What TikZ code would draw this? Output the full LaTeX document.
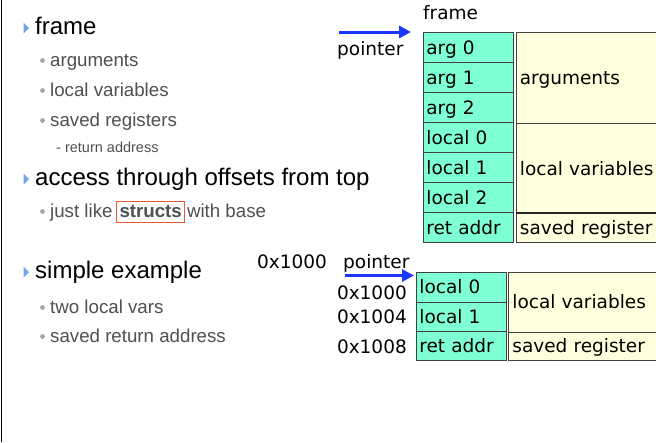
\documentclass[tikz,border=0pt]{standalone}
\usepackage{fontspec}
\setmainfont{Liberation Sans}
\newfontfamily\cellfont{DejaVu Sans}
\usetikzlibrary{arrows.meta}

\definecolor{cellteal}{RGB}{127,255,212}
\definecolor{noteyellow}{RGB}{255,255,221}
\definecolor{ptrblue}{RGB}{25,55,255}
\definecolor{bulletblue}{RGB}{110,165,230}
\definecolor{subgray}{RGB}{80,80,80}
\definecolor{dotgray}{RGB}{165,165,165}
\definecolor{boxred}{RGB}{232,85,55}

\begin{document}
\begin{tikzpicture}[x=1pt,y=-1pt,
  head/.style={anchor=base west, inner sep=0pt, font=\fontsize{24}{28}\selectfont},
  sub/.style={anchor=base west, inner sep=0pt, text=subgray, font=\fontsize{18.7}{22}\selectfont},
  subsub/.style={anchor=base west, inner sep=0pt, text=subgray, font=\fontsize{14.5}{17}\selectfont},
  lbl/.style={inner sep=0pt, font=\cellfont\fontsize{18.5}{20}\selectfont},
  slot/.style={draw=black!75, line width=0.8pt, fill=cellteal, anchor=north west,
    text width=84pt, inner xsep=3pt, inner ysep=0pt, align=left, minimum height=30pt,
    text height=17pt, text depth=3pt, font=\cellfont\fontsize{18.5}{20}\selectfont},
  region/.style={draw=black!75, line width=0.8pt, fill=noteyellow, anchor=north west,
    text width=192pt, inner xsep=4pt, inner ysep=0pt, align=left,
    text height=17pt, text depth=3pt, font=\cellfont\fontsize{18.5}{20}\selectfont},
  ptr/.style={draw=ptrblue, line width=3pt, -{Triangle[length=12pt,width=12pt]}},
]
\useasboundingbox (0,0) rectangle (656,442);
\fill[white] (0,0) rectangle (656,442);
\clip (0,0) rectangle (656,442);

% left border
\draw[line width=1.5pt] (1.5,0) -- (1.5,442);

% ---- bullet list ----
\fill[bulletblue] (23.5,22.5) -- (29,28) -- (23.5,33.5) -- cycle;
\node[head] (hframe) at (35,34) {frame};
\fill[dotgray] (42.5,60.5) circle (2.4pt);
\node[sub] (iargs) at (50,66) {arguments};
\fill[dotgray] (42.5,90.5) circle (2.4pt);
\node[sub] (ilocals) at (50,96) {local variables};
\fill[dotgray] (42.5,120.5) circle (2.4pt);
\node[sub] (iregs) at (50,126) {saved registers};
\node[subsub] (iret) at (56,152) {- return address};

\fill[bulletblue] (23.5,173.5) -- (29,179) -- (23.5,184.5) -- cycle;
\node[head] (haccess) at (35,185) {access through offsets from top};
\fill[dotgray] (42.5,211.5) circle (2.4pt);
\node[sub] (ilike) at (50,217) {just like};
\node[anchor=base west, draw=boxred, line width=1pt, inner xsep=3pt, inner ysep=2pt,
      text height=13.5pt, text depth=3.5pt, text=subgray,
      font=\bfseries\fontsize{18.7}{22}\selectfont] (istructs) at (116,217) {structs};
\node[sub] (ibase) at ([xshift=1.5pt]istructs.base east) {with base};

\fill[bulletblue] (23.5,266.5) -- (29,272) -- (23.5,277.5) -- cycle;
\node[head] (hsimple) at (35,278) {simple example};
\fill[dotgray] (42.5,307.5) circle (2.4pt);
\node[sub] (itwo) at (50,313) {two local vars};
\fill[dotgray] (42.5,336.5) circle (2.4pt);
\node[sub] (isaved) at (50,342) {saved return address};

% ---- general frame layout ----
\node[lbl, anchor=base west] (fname) at (423,19) {frame};
\node[lbl, anchor=base west] (fptr) at (337,55) {pointer};

\node[slot] (arg0) at (423,32) {arg 0};
\node[slot] (arg1) at (423,62) {arg 1};
\node[slot] (arg2) at (423,92) {arg 2};
\node[slot] (loc0) at (423,122) {local 0};
\node[slot] (loc1) at (423,152) {local 1};
\node[slot] (loc2) at (423,182) {local 2};
\node[slot] (ret) at (423,212) {ret addr};

\node[region, minimum height=91pt] (rargs) at (515.5,32) {arguments};
\node[region, minimum height=90pt] (rlocals) at (515.5,123) {local variables};
\node[region, minimum height=29pt] (rsaved) at (515.5,213) {saved register};
\draw[line width=1.6pt, black!85] (rsaved.north west) -- (rsaved.north east);

\coordinate (ftail) at (339,32);
\draw[ptr] (ftail) -- ([xshift=-12pt]arg0.north west);

% ---- simple example ----
\node[lbl, anchor=base west] (xbase) at (257,268) {0x1000};
\node[lbl, anchor=base west] (xptr) at (343,268) {pointer};
\node[lbl, anchor=base east] (xa0) at (407,299) {0x1000};
\node[lbl, anchor=base east] (xa4) at (407,323) {0x1004};
\node[lbl, anchor=base east] (xa8) at (407,353) {0x1008};

\node[slot, minimum height=29.5pt, text height=16pt] (xl0) at (416,272) {local 0};
\node[slot, minimum height=29.5pt, text height=16pt] (xl1) at (416,301.5) {local 1};
\node[slot, minimum height=29pt, text height=16pt] (xret) at (416,331) {ret addr};

\node[region, minimum height=60pt, text height=16pt] (xlocals) at (508,272) {local variables};
\node[region, minimum height=28pt, text height=16pt] (xsaved) at (508,332) {saved register};

\coordinate (xtail) at (345,275.5);
\draw[ptr] (xtail) -- ([xshift=-2pt,yshift=-3.5pt]xl0.north west);
\end{tikzpicture}
\end{document}
